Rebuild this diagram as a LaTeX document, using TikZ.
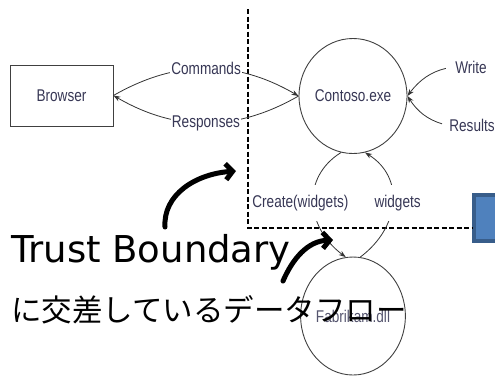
\documentclass[tikz,border=0pt]{standalone}
\usepackage{fontspec}
\usetikzlibrary{arrows.meta,shapes.geometric}
\newfontfamily\lblfont[FakeStretch=0.8]{Liberation Sans}
\newfontfamily\bigfont{DejaVu Sans}
\newfontfamily\jpfont{Noto Sans CJK JP}
\definecolor{lblcol}{RGB}{55,55,85}
\definecolor{storefill}{RGB}{79,129,189}
\definecolor{storeline}{RGB}{56,93,138}
\tikzset{
  proc/.style={draw=black!75,line width=0.9pt,ellipse,inner sep=0pt},
  extent/.style={draw=black!75,line width=0.9pt,rectangle},
  lbl/.style={font=\lblfont\fontsize{17}{17}\selectfont,text=lblcol},
  gap/.style={lbl,fill=white,inner xsep=1pt,inner ysep=10pt},
  flow/.style={draw=black!80,line width=0.8pt,-{Stealth[length=7pt,width=5pt]}},
  boundary/.style={line width=1.8pt,dash pattern=on 5pt off 2.5pt},
  bigarrow/.style={line width=5pt,line cap=round,-{Straight Barb[length=7pt,width=16pt]}}
}
\begin{document}
\begin{tikzpicture}[x={(1pt,0)},y={(0,1pt)}]
  \useasboundingbox (0,0) rectangle (495,-376);
  % elements
  \node[extent,lbl,minimum width=103pt,minimum height=61pt] at (61.5,-95.5) (browser) {Browser};
  \node[proc,lbl,minimum width=105pt,minimum height=115pt] at (353,-96) (contoso) {Contoso.exe};
  \node[proc,lbl,text=lblcol!85,minimum width=103pt,minimum height=118pt] at (353,-316) (fab) {Fabrikam.dll};
  \node[draw=storeline,fill=storefill,line width=4pt,minimum width=46pt,minimum height=46pt] at (497,-218) (store) {};
  \node[lbl] at (471,-67) (write) {Write};
  \node[lbl] at (472,-125) (results) {Results};
  % trust boundary
  \coordinate (btop) at (248,-9);
  \coordinate (bturn) at (248,-228);
  \draw[boundary] (btop) -- (bturn) -- (bturn -| store.west);
  % data flows
  \draw[flow] (browser.east) to[bend left=30] node[lbl,fill=white,inner sep=1pt] (cmd) {Commands} (contoso.west);
  \draw[flow] (contoso.west) to[bend left=30] node[lbl,fill=white,inner sep=1pt] (resp) {Responses} (browser.east);
  \draw[flow,shorten <=6pt] (write.west) to[bend right=20] (contoso.east);
  \draw[flow,shorten <=4pt] (results.west) to[bend left=20] (contoso.east);
  \draw[flow] (contoso.258) .. controls +(-40,-25) and +(-40,30) .. node[gap,xshift=-13pt] (create) {Create(widgets)} (fab.97);
  \draw[flow] (fab.83) .. controls +(40,30) and +(40,-25) .. node[gap,xshift=5pt] (wid) {widgets} (contoso.282);
  % annotation
  \coordinate (a1) at (165,-227);
  \coordinate (a1t) at (236,-171);
  \draw[bigarrow] (a1) .. controls (163,-195) and (195,-174) .. (a1t);
  \coordinate (a2) at (283,-281);
  \coordinate (a2t) at (333,-240);
  \draw[bigarrow] (a2) .. controls (293,-258) and (308,-241) .. (a2t);
  \node[font=\bigfont\fontsize{37}{37}\selectfont,anchor=base west,inner sep=0pt] at (11,-262) (tb) {Trust Boundary};
  \node[font=\jpfont\fontsize{30.5}{30.5}\selectfont,anchor=west,inner sep=0pt] at (11,-310) (jp) {に交差しているデータフロー};
\end{tikzpicture}
\end{document}
